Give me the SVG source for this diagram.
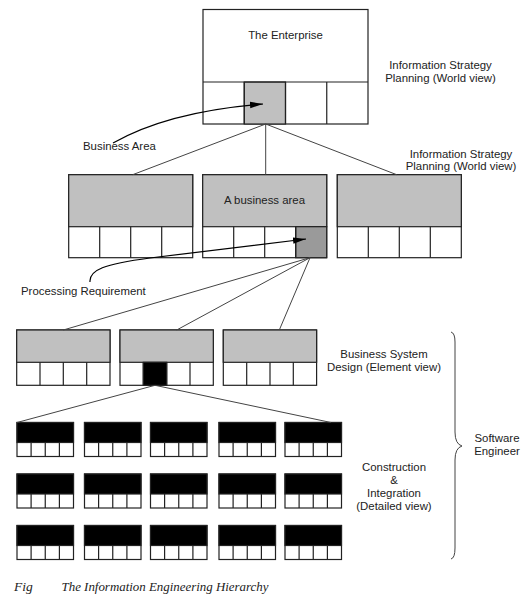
<svg xmlns="http://www.w3.org/2000/svg" xmlns:xlink="http://www.w3.org/1999/xlink" width="530" height="605" viewBox="0 0 530 605">
<style>
.box{fill:#fff;stroke:#222;stroke-width:1.2}
.gray{fill:#c0c0c0;stroke:#222;stroke-width:1.2}
.dark{fill:#9a9a9a;stroke:#222;stroke-width:1.2}
.blk{fill:#000;stroke:#222;stroke-width:1.2}
.cell{fill:none;stroke:#222;stroke-width:1.2}
.conn{fill:none;stroke:#444;stroke-width:1}
.arr{fill:none;stroke:#000;stroke-width:1.2}
.lbl{font-family:"Liberation Sans",Arial,sans-serif;font-size:11.4px;fill:#222}
.mid{text-anchor:middle}
.cap{font-family:"Liberation Serif","Times New Roman",serif;font-style:italic;font-size:13.5px;fill:#222}
</style>
<defs>
<marker id="ah" markerWidth="14" markerHeight="8" refX="13" refY="4" orient="auto" markerUnits="userSpaceOnUse">
<path d="M0,0.8 L13,4 L0,7.2 Z" fill="#000"/>
</marker>
<g id="mini">
<rect x="0" y="0" width="56.5" height="34" class="box"/>
<rect x="0" y="0" width="56.5" height="20" class="blk"/>
<path d="M14.1,20V34M28.25,20V34M42.4,20V34" class="cell"/>
</g>
</defs>

<g id="enterprise">
<rect x="203" y="9.5" width="165" height="114.5" class="box"/>
<rect x="244.25" y="82" width="41.25" height="42" class="gray"/>
<path d="M203,82H368M244.25,82V124M285.5,82V124M326.75,82V124" class="cell"/>
<text class="lbl mid" x="285.5" y="39">The Enterprise</text>
</g>

<g id="area1">
<rect x="68.7" y="174.7" width="124" height="83" class="box"/>
<rect x="68.7" y="174.7" width="124" height="52" class="gray"/>
<path d="M99.7,226.7V257.7M130.7,226.7V257.7M161.7,226.7V257.7" class="cell"/>
</g>
<g id="area2">
<rect x="202.7" y="174.7" width="124" height="83" class="box"/>
<rect x="202.7" y="174.7" width="124" height="52" class="gray"/>
<rect x="295.7" y="226.7" width="31" height="31" class="dark"/>
<path d="M233.7,226.7V257.7M264.7,226.7V257.7M295.7,226.7V257.7" class="cell"/>
<text class="lbl mid" x="264.5" y="204">A business area</text>
</g>
<g id="area3">
<rect x="337.3" y="174.7" width="124" height="83" class="box"/>
<rect x="337.3" y="174.7" width="124" height="52" class="gray"/>
<path d="M368.3,226.7V257.7M399.3,226.7V257.7M430.3,226.7V257.7" class="cell"/>
</g>

<g id="sys1">
<rect x="16.7" y="330" width="93.3" height="55.3" class="box"/>
<rect x="16.7" y="330" width="93.3" height="32.3" class="gray"/>
<path d="M40,362.3V385.3M63.3,362.3V385.3M86.7,362.3V385.3" class="cell"/>
</g>
<g id="sys2">
<rect x="120" y="330" width="93.3" height="55.3" class="box"/>
<rect x="120" y="330" width="93.3" height="32.3" class="gray"/>
<rect x="143.3" y="362.3" width="23.4" height="23" class="blk"/>
<path d="M143.3,362.3V385.3M166.7,362.3V385.3M190,362.3V385.3" class="cell"/>
</g>
<g id="sys3">
<rect x="223.3" y="330" width="93.3" height="55.3" class="box"/>
<rect x="223.3" y="330" width="93.3" height="32.3" class="gray"/>
<path d="M246.7,362.3V385.3M270,362.3V385.3M293.3,362.3V385.3" class="cell"/>
</g>

<g id="d1-1"><use href="#mini" xlink:href="#mini" x="17" y="422.5"/></g>
<g id="d1-2"><use href="#mini" xlink:href="#mini" x="84.5" y="422.5"/></g>
<g id="d1-3"><use href="#mini" xlink:href="#mini" x="150.5" y="422.5"/></g>
<g id="d1-4"><use href="#mini" xlink:href="#mini" x="219" y="422.5"/></g>
<g id="d1-5"><use href="#mini" xlink:href="#mini" x="285" y="422.5"/></g>
<g id="d2-1"><use href="#mini" xlink:href="#mini" x="17" y="474"/></g>
<g id="d2-2"><use href="#mini" xlink:href="#mini" x="84.5" y="474"/></g>
<g id="d2-3"><use href="#mini" xlink:href="#mini" x="150.5" y="474"/></g>
<g id="d2-4"><use href="#mini" xlink:href="#mini" x="219" y="474"/></g>
<g id="d2-5"><use href="#mini" xlink:href="#mini" x="285" y="474"/></g>
<g id="d3-1"><use href="#mini" xlink:href="#mini" x="17" y="525.5"/></g>
<g id="d3-2"><use href="#mini" xlink:href="#mini" x="84.5" y="525.5"/></g>
<g id="d3-3"><use href="#mini" xlink:href="#mini" x="150.5" y="525.5"/></g>
<g id="d3-4"><use href="#mini" xlink:href="#mini" x="219" y="525.5"/></g>
<g id="d3-5"><use href="#mini" xlink:href="#mini" x="285" y="525.5"/></g>

<g id="connectors">
<path class="conn" d="M265.7,124L132.7,174.7M265.7,124L265.7,174.7M265.7,124L396.7,174.7"/>
<path class="conn" d="M310,257.7L63.3,330M310,257.7L176.7,330M310,257.7L279.3,330"/>
<path class="conn" d="M155,385.3L17,422.5M155,385.3L331,422.5"/>
<path class="arr" d="M113,143 C150,122 200,109 263,104" marker-end="url(#ah)"/>
<path class="arr" d="M90,282 C89,270 104,264 150,258 Q230,248 306,239" marker-end="url(#ah)"/>
<path class="conn" d="M451,332 Q455,333 455,342 L455,432 Q455,444 462,446 Q455,448 455,460 L455,548 Q455,558 451,559"/>
</g>

<g id="labels">
<text class="lbl mid" x="440.5" y="68.5">Information Strategy</text>
<text class="lbl mid" x="440.5" y="81.5">Planning (World view)</text>
<text class="lbl mid" x="461" y="157.5">Information Strategy</text>
<text class="lbl mid" x="461" y="170">Planning (World view)</text>
<text class="lbl" x="83" y="150">Business Area</text>
<text class="lbl" x="21" y="294.5">Processing Requirement</text>
<text class="lbl mid" x="384" y="358">Business System</text>
<text class="lbl mid" x="384" y="370.5">Design (Element view)</text>
<text class="lbl mid" x="394" y="470.5">Construction</text>
<text class="lbl mid" x="394" y="483.5">&amp;</text>
<text class="lbl mid" x="394" y="496.5">Integration</text>
<text class="lbl mid" x="394" y="509.5">(Detailed view)</text>
<text class="lbl mid" x="497" y="442">Software</text>
<text class="lbl mid" x="497" y="455">Engineer</text>
<text class="cap" x="14" y="591">Fig</text>
<text class="cap" x="61.5" y="591" textLength="207" lengthAdjust="spacingAndGlyphs">The Information Engineering Hierarchy</text>
</g>
</svg>
